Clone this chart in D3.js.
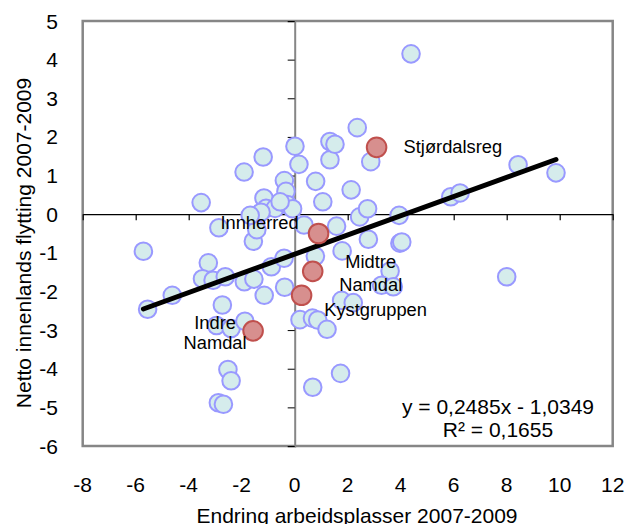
<!DOCTYPE html>
<html><head><meta charset="utf-8">
<script src="https://cdn.jsdelivr.net/npm/d3@7"></script>
<style>
html,body{margin:0;padding:0;background:#fff;}
text{font-family:Arial,"Liberation Sans",sans-serif;fill:#000;}
</style></head>
<body>
<svg id="chart" width="628" height="524"></svg>
<script>
// ---- data ----
const xValues = [-5.71,-5.55,-4.62,-3.53,-3.26,-3.48,-3.08,-2.62,-1.90,-1.54,-1.15,-0.88,-0.40,-0.38,-2.73,-2.95,-2.40,-1.88,-2.52,-2.40,-2.88,-2.69,-2.86,-1.56,-1.43,-1.91,-1.19,0.01,0.16,-0.39,-0.33,-1.16,-1.08,-0.74,-0.28,-0.08,-1.27,-1.68,0.79,1.06,1.33,1.33,1.52,2.36,2.13,2.45,2.75,2.87,4.39,3.94,5.89,6.24,8.43,9.86,0.35,1.58,1.79,0.78,2.78,3.97,4.04,3.60,3.28,3.72,8.00,1.77,2.21,0.20,0.67,0.87,1.22,0.68,1.73,-0.55];
const yValues = [-0.96,-2.46,-2.10,0.30,-1.26,-1.67,-1.71,-1.62,-1.75,-1.68,-2.10,-1.36,-1.14,-1.89,-2.35,-2.88,-2.96,-2.77,-4.02,-4.31,-4.88,-4.92,-0.35,-0.70,-0.40,1.09,1.48,1.76,1.29,0.87,0.59,0.42,0.15,0.15,0.25,0.14,0.05,-0.03,0.85,0.32,1.41,1.88,1.81,2.24,0.63,-0.07,0.14,1.36,4.15,-0.03,0.45,0.55,1.28,1.07,-0.28,-0.31,-0.95,-1.09,-0.65,-0.75,-0.72,-1.47,-1.84,-1.88,-1.62,-2.23,-2.29,-2.73,-2.69,-2.74,-2.98,-4.48,-4.12,0.32];
const regionNames = ["Stjørdalsreg","Innherred","Midtre Namdal","Kystgruppen","Indre Namdal"];
const regionX = [3.09,0.90,0.68,0.26,-1.57];
const regionY = [1.73,-0.50,-1.48,-2.10,-3.02];
const xTicks = [-8,-6,-4,-2,0,2,4,6,8,10,12];
const yTicks = [5,4,3,2,1,0,-1,-2,-3,-4,-5,-6];
const trendSlope = 0.2485, trendIntercept = -1.0349;
const trendRange = [-5.71, 9.86];
const equationLines = ["y = 0,2485x - 1,0349", "R² = 0,1655"];
const xTitle = "Endring arbeidsplasser 2007-2009";
const yTitle = "Netto innenlands flytting 2007-2009";

// ---- drawing ----
const svg = d3.select("#chart");
const L = 82.7, R = 612.7, T = 21, B = 446;
const x = d3.scaleLinear().domain([-8,12]).range([L,R]);
const y = d3.scaleLinear().domain([-6,5]).range([B,T]);

svg.append("rect").attr("x",L).attr("y",T).attr("width",R-L).attr("height",B-T)
  .attr("fill","#fff").attr("stroke","#868686").attr("stroke-width",2.5);

// y axis at x=0
const yAx = svg.append("g").attr("transform",`translate(${x(0)},0)`)
  .call(d3.axisLeft(y).tickValues(yTicks).tickSize(7).tickFormat(""));
yAx.select(".domain").attr("stroke","#868686").attr("stroke-width",2);
yAx.selectAll(".tick line").attr("stroke","#000");

// x axis at y=0
const xAx = svg.append("g").attr("transform",`translate(0,${y(0)})`)
  .call(d3.axisBottom(x).tickValues(xTicks).tickSize(6).tickSizeOuter(0).tickFormat(""));
xAx.select(".domain").attr("stroke","#000").attr("stroke-width",1.2);
xAx.selectAll(".tick line").attr("stroke","#000").attr("stroke-width",1.2);

// tick labels
svg.append("g").selectAll("text").data(yTicks).join("text")
  .attr("x",58).attr("y",d=>y(d)).attr("dy","0.36em")
  .attr("text-anchor","end").attr("font-size",21).text(d=>d);
svg.append("g").selectAll("text").data(xTicks).join("text")
  .attr("x",d=>x(d)).attr("y",492)
  .attr("text-anchor","middle").attr("font-size",21).text(d=>d);

// titles
svg.append("text").attr("x",357).attr("y",523).attr("text-anchor","middle")
  .attr("font-size",21).text(xTitle);
svg.append("text").attr("transform","translate(31,243) rotate(-90)")
  .attr("text-anchor","middle").attr("font-size",21).text(yTitle);

// points
const pts = xValues.map((v,i)=>({x:v,y:yValues[i]}));
svg.append("g").selectAll("circle").data(pts).join("circle")
  .attr("cx",d=>x(d.x)).attr("cy",d=>y(d.y)).attr("r",8.8)
  .attr("fill","#d5ecec").attr("stroke","#9999ff").attr("stroke-width",2);

// trend line
svg.append("line")
  .attr("x1",x(trendRange[0])).attr("y1",y(trendSlope*trendRange[0]+trendIntercept))
  .attr("x2",x(trendRange[1])).attr("y2",y(trendSlope*trendRange[1]+trendIntercept))
  .attr("stroke","#000").attr("stroke-width",5).attr("stroke-linecap","round");

// highlighted regions
const regs = regionNames.map((n,i)=>({name:n,x:regionX[i],y:regionY[i]}));
svg.append("g").selectAll("circle").data(regs).join("circle")
  .attr("cx",d=>x(d.x)).attr("cy",d=>y(d.y)).attr("r",9.8)
  .attr("fill","#d78f8e").attr("stroke","#c0504d").attr("stroke-width",2);

const labelLayout = {
  "Stjørdalsreg": {dx:27, dy:[6], anchor:"start", lines:["Stjørdalsreg"]},
  "Innherred": {dx:-59, dy:[-5], anchor:"middle", lines:["Innherred"]},
  "Midtre Namdal": {dx:58, dy:[-3,20], anchor:"middle", lines:["Midtre","Namdal"]},
  "Kystgruppen": {dx:74, dy:[21], anchor:"middle", lines:["Kystgruppen"]},
  "Indre Namdal": {dx:-38, dy:[-2,18], anchor:"middle", lines:["Indre","Namdal"]}
};
regs.forEach(d=>{
  const lay = labelLayout[d.name];
  lay.lines.forEach((ln,j)=>{
    svg.append("text").attr("x",x(d.x)+lay.dx).attr("y",y(d.y)+lay.dy[j])
      .attr("text-anchor",lay.anchor).attr("font-size",18.3).text(ln);
  });
});

// equation
svg.append("g").selectAll("text").data(equationLines).join("text")
  .attr("x",498).attr("y",(d,i)=>414+i*23).attr("text-anchor","middle")
  .attr("font-size",21).text(d=>d);
</script>
</body></html>
